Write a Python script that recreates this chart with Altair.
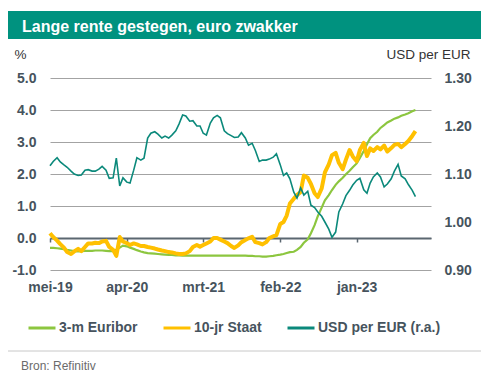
import altair as alt
import pandas as pd

# ---- data (semi-monthly readings from the reference picture) ----
dates = pd.date_range("2019-05-01", periods=106, freq="SMS").strftime("%Y-%m-%d").tolist()

euribor_3m = [
    -0.31, -0.31, -0.32, -0.33, -0.35, -0.37, -0.39, -0.41, -0.42, -0.41,
    -0.40, -0.40, -0.40, -0.39, -0.39, -0.39, -0.40, -0.41, -0.41, -0.37,
    -0.30, -0.24, -0.26, -0.30, -0.34, -0.38, -0.42, -0.45, -0.47, -0.48,
    -0.49, -0.50, -0.51, -0.52, -0.53, -0.53, -0.54, -0.54, -0.55, -0.55,
    -0.55, -0.55, -0.55, -0.55, -0.55, -0.55, -0.55, -0.55, -0.55, -0.55,
    -0.55, -0.55, -0.55, -0.55, -0.55, -0.55, -0.55, -0.56, -0.56, -0.57,
    -0.57, -0.58, -0.58, -0.57, -0.56, -0.54, -0.52, -0.50, -0.47, -0.44,
    -0.43, -0.37, -0.28, -0.15, -0.04, 0.15, 0.40, 0.68, 0.95, 1.18,
    1.34, 1.50, 1.66, 1.77, 1.88, 1.99, 2.10, 2.21, 2.33, 2.50,
    2.72, 2.93, 3.12, 3.22, 3.32, 3.44, 3.53, 3.61, 3.67, 3.73,
    3.77, 3.82, 3.86, 3.90, 3.96, 4.00,
]

staat_10j = [
    0.15, 0.03, -0.08, -0.19, -0.30, -0.44, -0.50, -0.42, -0.34, -0.41,
    -0.28, -0.17, -0.17, -0.15, -0.16, -0.11, -0.09, -0.28, -0.37, -0.56,
    0.03, -0.11, -0.16, -0.22, -0.17, -0.20, -0.25, -0.25, -0.28, -0.30,
    -0.33, -0.36, -0.39, -0.41, -0.44, -0.45, -0.48, -0.50, -0.50, -0.48,
    -0.41, -0.28, -0.22, -0.27, -0.22, -0.17, -0.11, 0.00, 0.00, -0.05,
    -0.11, -0.16, -0.25, -0.31, -0.23, -0.13, -0.06, -0.01, 0.04, -0.13,
    -0.16, -0.20, -0.13, 0.00, 0.05, 0.09, 0.44, 0.50, 0.70, 1.08,
    1.23, 1.34, 1.44, 1.95, 1.88, 1.69, 1.40, 1.28, 1.55, 2.05,
    2.30, 2.59, 2.66, 2.35, 2.15, 2.45, 2.75, 2.55, 2.40, 2.75,
    2.97, 2.56, 2.80, 2.72, 2.84, 2.77, 2.89, 2.70, 2.81, 2.91,
    2.94, 2.84, 2.94, 3.03, 3.19, 3.34,
]

usd_per_eur = [
    1.117, 1.126, 1.134, 1.125, 1.119, 1.114, 1.106, 1.100, 1.097, 1.098,
    1.108, 1.109, 1.106, 1.106, 1.110, 1.116, 1.108, 1.091, 1.092, 1.133,
    1.075, 1.092, 1.083, 1.081, 1.108, 1.134, 1.129, 1.133, 1.175, 1.185,
    1.188, 1.183, 1.175, 1.179, 1.175, 1.181, 1.190, 1.204, 1.223, 1.221,
    1.210, 1.211, 1.200, 1.200, 1.185, 1.181, 1.206, 1.217, 1.222, 1.217,
    1.190, 1.184, 1.180, 1.176, 1.177, 1.186, 1.175, 1.160, 1.164, 1.149,
    1.126, 1.129, 1.129, 1.131, 1.135, 1.142, 1.119, 1.097, 1.102, 1.090,
    1.062, 1.050, 1.071, 1.056, 1.064, 1.035, 1.030, 1.021, 1.012, 1.000,
    0.985, 0.968, 0.979, 1.021, 1.038, 1.055, 1.066, 1.077, 1.087, 1.091,
    1.067, 1.060, 1.081, 1.094, 1.102, 1.094, 1.073, 1.079, 1.090, 1.106,
    1.120, 1.096, 1.090, 1.078, 1.066, 1.053,
]

series_names = ["3-m Euribor", "10-jr Staat", "USD per EUR (r.a.)"]
series_colors = ["#8cc63f", "#ffc000", "#0b897b"]

title_text = "Lange rente gestegen, euro zwakker"
source_text = "Bron: Refinitiv"

left_ticks = [-1, 0, 1, 2, 3, 4, 5]
right_ticks = [0.9, 1.0, 1.1, 1.2, 1.3]

# ---- tables ----
df_g = pd.DataFrame({"date": dates, "value": euribor_3m, "series": series_names[0]})
df_y = pd.DataFrame({"date": dates, "value": staat_10j, "series": series_names[1]})
df_u = pd.DataFrame({"date": dates, "value": usd_per_eur, "series": series_names[2]})

FONT = "Liberation Sans"
LABEL_COLOR = "#46535d"

color_enc = alt.Color(
    "series:N",
    scale=alt.Scale(domain=series_names, range=series_colors),
    legend=alt.Legend(
        title=None, orient="none", legendX=-23, legendY=235, direction="horizontal",
        symbolType="stroke", symbolSize=729, symbolStrokeWidth=3,
        labelFont=FONT, labelFontSize=14, labelFontWeight="bold", labelColor=LABEL_COLOR,
        labelOffset=2, columnPadding=19, padding=0,
    ),
)

month_expr = ("['jan','feb','mrt','apr','mei','jun','jul','aug','sep','okt','nov','dec']"
              "[utcmonth(datum.value)] + '-' + utcFormat(datum.value, '%y')")

x_enc = alt.X(
    "date:T",
    scale=alt.Scale(type="utc", domain=[
        alt.DateTime(year=2019, month=5, date=1, utc=True),
        alt.DateTime(year=2023, month=11, date=22, utc=True)]),
    axis=alt.Axis(
        values=[alt.DateTime(year=2019, month=5, date=1, utc=True),
                alt.DateTime(year=2020, month=4, date=1, utc=True),
                alt.DateTime(year=2021, month=3, date=1, utc=True),
                alt.DateTime(year=2022, month=2, date=1, utc=True),
                alt.DateTime(year=2023, month=1, date=1, utc=True)],
        labelExpr=month_expr, title=None, grid=False, labelFlush=False,
        offset=-32, domainColor="#5b6770", domainWidth=2,
        tickColor="#5b6770", tickSize=4, tickWidth=1.5,
        labelPadding=38, labelFont=FONT, labelFontSize=14, labelFontWeight="bold",
        labelColor=LABEL_COLOR,
    ),
)

y_left = alt.Y(
    "value:Q",
    scale=alt.Scale(domain=[-1, 5], nice=False, zero=False),
    axis=alt.Axis(
        values=left_ticks, orient="left",
        labelExpr="(datum.value < 0 ? '-' : '') + format(abs(datum.value), '.1f')",
        grid=True, gridColor="#a3a3a3", gridWidth=1, domain=False, ticks=False,
        labelPadding=14, labelFont=FONT, labelFontSize=14, labelFontWeight="bold",
        labelColor=LABEL_COLOR,
        title="%", titleAngle=0, titleAlign="left", titleBaseline="alphabetic",
        titleX=-36, titleY=-19.5, titleFont=FONT, titleFontSize=13.5,
        titleFontWeight="normal", titleColor="#333333",
    ),
)

y_right = alt.Y(
    "value:Q",
    scale=alt.Scale(domain=[0.9, 1.3], nice=False, zero=False),
    axis=alt.Axis(
        values=right_ticks, orient="right", format=".2f",
        grid=False, domain=False, ticks=False,
        labelPadding=13, labelFont=FONT, labelFontSize=14, labelFontWeight="bold",
        labelColor=LABEL_COLOR,
        title="USD per EUR", titleAngle=0, titleAlign="right", titleBaseline="alphabetic",
        titleX=39, titleY=-19.5, titleFont=FONT, titleFontSize=13.5,
        titleFontWeight="normal", titleColor="#333333",
    ),
)

green = alt.Chart(df_g).mark_line(strokeWidth=2.2).encode(x=x_enc, y=y_left, color=color_enc)
yellow = alt.Chart(df_y).mark_line(strokeWidth=4, strokeJoin="round").encode(x=x_enc, y=y_left, color=color_enc)
teal = alt.Chart(df_u).mark_line(strokeWidth=1.6).encode(x=x_enc, y=y_right, color=color_enc)

deco = pd.DataFrame({"title": [title_text], "source": [source_text]})
banner = alt.Chart(deco).mark_rect(color="#00927f").encode(
    x=alt.value(-43), x2=alt.value(431), y=alt.value(-67), y2=alt.value(-39))
banner_text = alt.Chart(deco).mark_text(
    align="left", baseline="alphabetic", font=FONT, fontSize=16, fontWeight="bold", color="white"
).encode(x=alt.value(-28), y=alt.value(-46.5), text="title:N")
separator = alt.Chart(deco).mark_rule(color="#c8c8c8", strokeWidth=1).encode(
    x=alt.value(-43), x2=alt.value(431), y=alt.value(273))
source = alt.Chart(deco).mark_text(
    align="left", baseline="alphabetic", font=FONT, fontSize=12, color="#6b6b6b"
).encode(x=alt.value(-29), y=alt.value(291.5), text="source:N")

left_layer = alt.layer(banner, banner_text, separator, source, green, yellow)

chart = alt.layer(left_layer, teal).resolve_scale(y="independent").properties(
    width=381, height=192,
    autosize=alt.AutoSizeParams(type="none"),
    padding={"left": 42, "top": 70, "right": 56, "bottom": 104},
    background="white",
).configure_view(stroke=None)

chart.save("out.html", embed_options={"renderer": "svg", "actions": False})
